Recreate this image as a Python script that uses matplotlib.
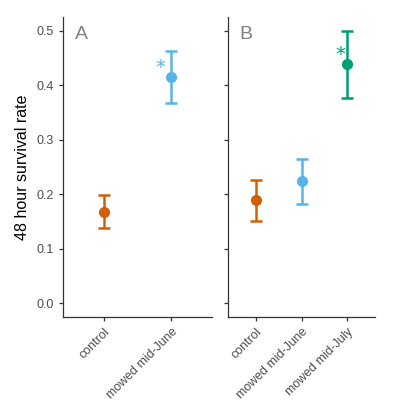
import numpy as np
import matplotlib
matplotlib.use("Agg")
import matplotlib.pyplot as plt

plt.rcParams["font.family"] = ["Liberation Sans", "DejaVu Sans"]

# ---- data ----
groups_a = ["control", "mowed mid-June"]
rate_a = [0.168, 0.415]
lo_a = [0.138, 0.367]
hi_a = [0.199, 0.463]
sig_a = [False, True]

groups_b = ["control", "mowed mid-June", "mowed mid-July"]
rate_b = [0.189, 0.224, 0.439]
lo_b = [0.151, 0.183, 0.377]
hi_b = [0.227, 0.265, 0.500]
sig_b = [False, False, True]

colors = {"control": "#D55E00", "mowed mid-June": "#56B4E9", "mowed mid-July": "#009E73"}
yticks = [0.0, 0.1, 0.2, 0.3, 0.4, 0.5]

fig = plt.figure(figsize=(3.96, 4.15), dpi=100)
axA = fig.add_axes([63 / 396, 1 - 317 / 415, 149 / 396, 300 / 415])
axB = fig.add_axes([228 / 396, 1 - 317 / 415, 147 / 396, 300 / 415])


def panel(ax, groups, rate, lo, hi, sig, label, show_y):
    xs = np.arange(1, len(groups) + 1)
    for x, g, r, l, h, s in zip(xs, groups, rate, lo, hi, sig):
        c = colors[g]
        ax.errorbar(x, r, yerr=[[r - l], [h - r]], fmt="o", color=c, ms=7,
                    elinewidth=1.8, capsize=4, capthick=1.8)
        if s:
            ax.text(x - 0.16, r + 0.0, "*", color=c, fontsize=14,
                    family="DejaVu Sans", ha="center", va="bottom")
    ax.set_xlim(0.4, len(groups) + 0.6)
    ax.set_ylim(-0.025, 0.525)
    ax.set_xticks(xs)
    ax.set_xticklabels(groups, rotation=45, ha="right", va="top",
                       rotation_mode="anchor", fontsize=9, color="#4D4D4D")
    ax.set_yticks(yticks)
    if show_y:
        ax.set_yticklabels([f"{v:.1f}" for v in yticks], fontsize=9, color="#4D4D4D")
        ax.set_ylabel("48 hour survival rate", fontsize=11.5, labelpad=5)
    else:
        ax.set_yticklabels([])
    for sp in ("top", "right"):
        ax.spines[sp].set_visible(False)
    for sp in ("left", "bottom"):
        ax.spines[sp].set_color("#333333")
        ax.spines[sp].set_linewidth(0.9)
    ax.tick_params(length=3, width=0.9, color="#333333")
    ax.text(0.08, 0.97, label, transform=ax.transAxes, fontsize=14,
            color="#808080", ha="left", va="top")


panel(axA, groups_a, rate_a, lo_a, hi_a, sig_a, "A", True)
panel(axB, groups_b, rate_b, lo_b, hi_b, sig_b, "B", False)

fig.savefig("out.png", dpi=100)
